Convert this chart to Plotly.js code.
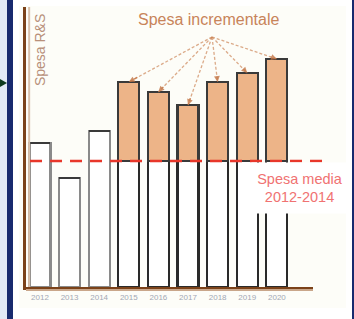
<!DOCTYPE html>
<html><head><meta charset="utf-8">
<script src="https://cdn.plot.ly/plotly-3.0.1.min.js"></script>
<style>
html,body{margin:0;padding:0;background:#ffffff;width:354px;height:319px;overflow:hidden;}
#bgL{position:absolute;left:0;top:0;width:7px;height:319px;background:#E2E9F6;}
#bgN{position:absolute;left:7px;top:0;width:6px;height:319px;background:#182A6E;}
#bgR{position:absolute;left:352px;top:0;width:2px;height:319px;background:#182A6E;z-index:5;}
#panel{position:absolute;left:19px;top:6px;width:327px;height:302px;background:#FDFDF8;}
#arrow{position:absolute;left:0;top:79px;width:0;height:0;border-top:4px solid transparent;border-bottom:4px solid transparent;border-left:7px solid #0E3A1E;}
#chart{position:absolute;left:0;top:0;width:354px;height:319px;}
</style></head>
<body>
<div id="bgL"></div><div id="bgN"></div><div id="panel"></div><div id="arrow"></div>
<div id="chart"></div>
<div id="bgR"></div>
<script>
const years = ['2012','2013','2014','2015','2016','2017','2018','2019','2020'];
const spesa = [144,109,156,205,195,182,205,214,228];
const media = 126;
const firstIncrYear = 2015;

const idx = years.map((_,i) => i);
const isIncr = years.map(y => +y >= firstIncrYear);
const baseVals = spesa.map((v,i) => isIncr[i] ? media : v);
const incrVals = spesa.map((v,i) => isIncr[i] ? v - media : 0);
const baseLine = isIncr.map(f => f ? '#2a2a2a' : '#8a8a8a');

const traces = [
  {type:'bar', x:idx, y:baseVals, width:0.71,
   marker:{color:'#FFFFFF', line:{color:baseLine, width:2.2}}, hoverinfo:'skip'},
  {type:'bar', x:idx, y:incrVals, width:0.71,
   marker:{color:'#EDB488', line:{color:'#3a3a3a', width:2.2}}, hoverinfo:'skip'}
];

const srcX = 5.81, srcY = 250;
const arrowColor = 'rgba(196,118,70,0.8)';
const arrowLines = idx.filter(i => isIncr[i]).map(i => ({
  type:'line', xref:'x', yref:'y', x0:srcX, y0:srcY, x1:i, y1:spesa[i],
  line:{color:'rgba(205,135,90,0.7)', width:1.3, dash:'3px,2px'}
}));
const arrowHeads = idx.filter(i => isIncr[i]).map(i => ({
  x:i, y:spesa[i], xref:'x', yref:'y', axref:'x', ayref:'y',
  ax:i + 0.12*(srcX - i), ay:spesa[i] + 0.12*(srcY - spesa[i]),
  text:'', showarrow:true, arrowhead:2, arrowsize:0.9,
  arrowwidth:1.3, arrowcolor:arrowColor, standoff:0
}));

const layout = {
  width:354, height:319,
  margin:{l:26, r:41, t:7, b:32, pad:0},
  paper_bgcolor:'rgba(0,0,0,0)', plot_bgcolor:'rgba(0,0,0,0)',
  barmode:'stack', showlegend:false,
  xaxis:{type:'linear', range:[-0.47, 9.22], tickvals:idx, ticktext:years,
    showline:true, linecolor:'#7B4219', linewidth:3,
    showgrid:false, zeroline:false, ticks:'', tickfont:{family:'Arial', size:8, color:'#A2A8B4'}},
  yaxis:{range:[0,280], showline:true, linecolor:'#7B4219', linewidth:3, showgrid:false,
    zeroline:false, showticklabels:false, ticks:''},
  shapes:[
    {type:'line', xref:'paper', yref:'paper', x0:0, x1:1, y0:-0.011, y1:-0.011,
     line:{color:'#C9A68A', width:2}},
    {type:'line', xref:'paper', yref:'paper', x0:0.011, x1:0.011, y0:0, y1:1,
     line:{color:'#D9C0AA', width:2}},
    ...arrowLines,
    {type:'line', xref:'paper', yref:'y', x0:0.014, x1:1.059, y0:media, y1:media,
     line:{color:'#E8372A', width:2.5, dash:'12px,8px'}}
  ],
  annotations:[
    ...arrowHeads,
    {text:'Spesa incrementale', xref:'paper', yref:'paper', x:0.638, y:0.954, yanchor:'middle', showarrow:false,
     font:{family:'Arial', size:16, color:'#C8845A'}},
    {text:'Spesa R&S', xref:'paper', yref:'paper', x:0.049, y:0.982, yanchor:'top', xanchor:'center', showarrow:false, textangle:-90,
     font:{family:'Arial', size:14, color:'#B8907A'}},
    {text:'Spesa media<br>2012-2014', xref:'paper', yref:'y', x:0.955, y:99, xanchor:'center', yanchor:'middle', showarrow:false,
     bgcolor:'#FFFFFF', width:94, height:48, align:'center',
     font:{family:'Arial', size:14.5, color:'#F07272'}}
  ]
};
Plotly.newPlot('chart', traces, layout, {displayModeBar:false, staticPlot:true});
</script>
</body></html>
